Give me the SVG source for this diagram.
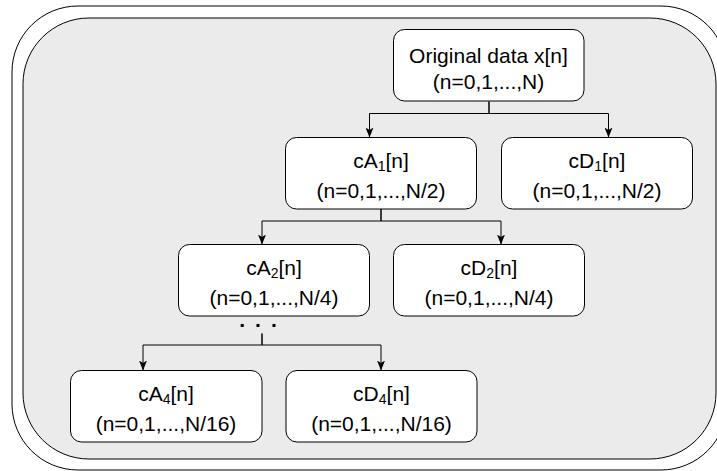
<svg xmlns="http://www.w3.org/2000/svg" width="717" height="471" viewBox="0 0 717 471">
<defs>
<marker id="arr" viewBox="0 0 10 8" refX="10" refY="4" markerWidth="10" markerHeight="8" markerUnits="userSpaceOnUse" orient="auto">
<path d="M0,0 L10,4 L0,8 L2.5,4 Z" fill="#000"/>
</marker>
</defs>
<style>
.node rect{fill:#fff;stroke:#000;stroke-width:1}
text{font-family:"Liberation Sans",Arial,Helvetica,sans-serif;font-size:21px;fill:#000;text-anchor:middle}
.sub{font-size:14px}
.conn path{fill:none;stroke:#000;stroke-width:1;marker-end:url(#arr)}
</style>
<g id="container">
<rect x="12" y="6" width="715" height="464" rx="66" ry="66" fill="#fff" stroke="#000" stroke-width="1"/>
<rect x="23" y="18" width="693" height="441" rx="66" ry="66" fill="#ebebeb" stroke="#000" stroke-width="1"/>
</g>
<g class="conn" id="connectors">
<path d="M489 101.5 V113.5 H369.5 V137.5"/>
<path d="M489 101.5 V113.5 H608.5 V137.5"/>
<path d="M381 209 V221 H262 V244.5"/>
<path d="M381 209 V221 H501 V244.5"/>
<path d="M262 333.5 V345 H143 V370.5"/>
<path d="M262 333.5 V345 H381 V370.5"/>
</g>
<g class="node" id="orig">
<rect x="393.5" y="29.5" width="190.5" height="71.5" rx="11"/>
<text x="488.5" y="62.5">Original data x[n]</text>
<text x="488.5" y="88.5">(n=0,1,...,N)</text>
</g>
<g class="node" id="cA1">
<rect x="285.5" y="137.5" width="191" height="71.5" rx="11"/>
<text x="381" y="167.5">cA<tspan class="sub" dy="3">1</tspan><tspan dy="-3">[n]</tspan></text>
<text x="381" y="198">(n=0,1,...,N/2)</text>
</g>
<g class="node" id="cD1">
<rect x="501.5" y="137.5" width="191" height="71.5" rx="11"/>
<text x="597" y="167.5">cD<tspan class="sub" dy="3">1</tspan><tspan dy="-3">[n]</tspan></text>
<text x="597" y="198">(n=0,1,...,N/2)</text>
</g>
<g class="node" id="cA2">
<rect x="178.5" y="244.5" width="191" height="71.5" rx="11"/>
<text x="274" y="274.5">cA<tspan class="sub" dy="3">2</tspan><tspan dy="-3">[n]</tspan></text>
<text x="274" y="304.5">(n=0,1,...,N/4)</text>
</g>
<g class="node" id="cD2">
<rect x="393.5" y="244.5" width="191" height="71.5" rx="11"/>
<text x="489" y="274.5">cD<tspan class="sub" dy="3">2</tspan><tspan dy="-3">[n]</tspan></text>
<text x="489" y="304.5">(n=0,1,...,N/4)</text>
</g>
<g id="dots">
<text x="259" y="326.5" font-weight="bold" font-size="14" letter-spacing="2.1">. . .</text>
</g>
<g class="node" id="cA4">
<rect x="70.5" y="370.5" width="191.5" height="71.5" rx="11"/>
<text x="166" y="400.5">cA<tspan class="sub" dy="3">4</tspan><tspan dy="-3">[n]</tspan></text>
<text x="166" y="430.5">(n=0,1,...,N/16)</text>
</g>
<g class="node" id="cD4">
<rect x="286" y="370.5" width="191" height="71.5" rx="11"/>
<text x="381.5" y="400.5">cD<tspan class="sub" dy="3">4</tspan><tspan dy="-3">[n]</tspan></text>
<text x="381.5" y="430.5">(n=0,1,...,N/16)</text>
</g>
</svg>
